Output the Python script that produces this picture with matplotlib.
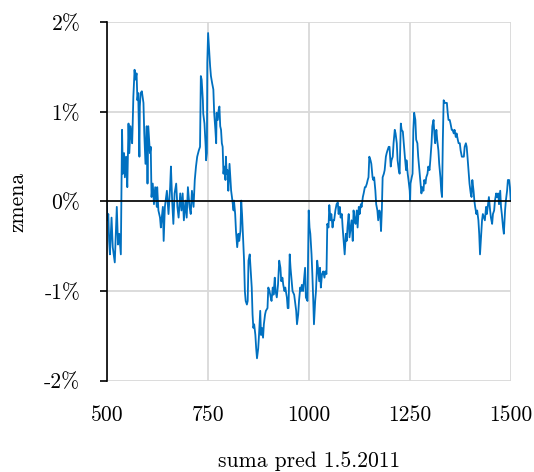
import matplotlib
matplotlib.use("Agg")
import matplotlib.pyplot as plt

plt.rcParams['font.family'] = 'serif'
plt.rcParams['font.serif'] = ['cmr10', 'DejaVu Serif']
plt.rcParams['axes.formatter.use_mathtext'] = True

# suma pred 1.5.2011 -> zmena (v %)
suma = [500, 502, 504, 506, 508, 512, 515, 520, 523, 525, 528, 531, 535, 536,
        538, 540, 543, 545, 548, 551, 554, 556, 559, 563, 564, 566, 569, 571,
        574, 576, 578, 581, 582, 584, 587, 591, 593, 596, 599, 601, 603, 607,
        609, 611, 614, 617, 620, 624, 625, 628, 632, 634, 639, 641, 644, 649,
        653, 657, 659, 662, 665, 668, 672, 675, 678, 682, 685, 688, 691, 695,
        698, 701, 705, 708, 711, 715, 718, 721, 724, 728, 731, 733, 735, 738,
        739, 742, 745, 746, 748, 749, 751, 753, 756, 758, 761, 764, 766, 769,
        771, 772, 775, 777, 779, 781, 783, 785, 787, 789, 791, 794, 795, 797,
        799, 801, 804, 806, 808, 810, 814, 815, 818, 820, 823, 826, 828, 831,
        833, 835, 837, 840, 842, 844, 847, 849, 851, 854, 856, 859, 861, 863,
        865, 868, 870, 872, 875, 877, 880, 882, 884, 887, 889, 892, 894, 898,
        900, 903, 906, 908, 911, 913, 916, 918, 921, 924, 927, 930, 932, 935,
        937, 940, 942, 946, 948, 950, 953, 955, 958, 960, 964, 966, 969, 971,
        974, 976, 979, 981, 983, 986, 988, 991, 993, 997, 1000, 1002, 1004,
        1007, 1009, 1011, 1013, 1016, 1018, 1021, 1023, 1026, 1028, 1030, 1033,
        1036, 1039, 1041, 1044, 1046, 1049, 1051, 1054, 1056, 1059, 1061, 1063,
        1066, 1069, 1072, 1074, 1077, 1079, 1082, 1084, 1087, 1089, 1092, 1094,
        1096, 1099, 1101, 1104, 1106, 1109, 1111, 1114, 1116, 1119, 1121, 1124,
        1126, 1129, 1131, 1134, 1136, 1139, 1141, 1144, 1146, 1148, 1150, 1153,
        1155, 1158, 1160, 1162, 1165, 1167, 1170, 1172, 1175, 1177, 1179, 1181,
        1183, 1186, 1188, 1191, 1193, 1195, 1198, 1200, 1203, 1205, 1208, 1210,
        1213, 1215, 1218, 1220, 1223, 1225, 1228, 1230, 1233, 1236, 1238, 1241,
        1242, 1245, 1247, 1250, 1251, 1252, 1255, 1257, 1259, 1261, 1264, 1266,
        1269, 1271, 1274, 1276, 1279, 1281, 1284, 1286, 1289, 1291, 1294, 1296,
        1299, 1301, 1304, 1306, 1309, 1311, 1313, 1316, 1318, 1321, 1323, 1326,
        1328, 1330, 1332, 1334, 1337, 1339, 1342, 1344, 1346, 1349, 1351, 1354,
        1356, 1359, 1361, 1364, 1366, 1369, 1371, 1374, 1376, 1379, 1381, 1384,
        1386, 1389, 1391, 1393, 1396, 1398, 1401, 1403, 1405, 1408, 1410, 1412,
        1415, 1417, 1420, 1422, 1424, 1426, 1429, 1431, 1434, 1436, 1439, 1441,
        1444, 1446, 1449, 1451, 1454, 1456, 1459, 1461, 1464, 1466, 1469, 1471,
        1474, 1476, 1478, 1481, 1483, 1486, 1488, 1491, 1493, 1496, 1498, 1500]
zmena = [-0.01, -0.21, -0.14, -0.44, -0.59, -0.18, -0.51, -0.68, -0.29, -0.06,
         -0.48, -0.36, -0.59, -0.14, 0.80, 0.31, 0.54, 0.27, 0.50, 0.16, 0.87,
         0.54, 0.84, 0.65, 0.80, 1.17, 1.47, 1.36, 1.43, 1.13, 1.21, 0.50, 1.06,
         1.21, 1.23, 1.10, 0.76, 0.42, 0.84, 0.20, 0.84, 0.54, 0.61, 0.05, 0.20,
         -0.03, 0.16, -0.06, 0.16, -0.10, -0.18, -0.29, -0.06, -0.44, -0.06,
         0.12, -0.14, 0.16, 0.39, 0.01, -0.25, 0.09, 0.20, -0.06, -0.18, 0.09,
         -0.10, 0.09, -0.21, 0.01, -0.18, 0.16, -0.06, -0.14, 0.12, -0.06, 0.24,
         0.39, 0.50, 0.57, 0.61, 1.40, 1.36, 1.13, 0.98, 0.87, 0.61, 0.46, 0.54,
         1.55, 1.88, 1.73, 1.51, 1.40, 1.32, 1.25, 0.99, 0.80, 0.65, 0.99, 0.91,
         1.02, 1.06, 0.84, 0.80, 0.65, 0.61, 0.31, 0.39, 0.24, 0.50, 0.31, 0.35,
         0.12, 0.42, 0.27, 0.12, 0.05, -0.10, 0.01, -0.14, -0.33, -0.51, -0.36,
         -0.44, -0.33, 0.01, -0.14, -0.36, -0.66, -1.00, -1.11, -1.15, -1.11,
         -0.66, -0.59, -0.74, -0.96, -1.26, -1.41, -1.37, -1.49, -1.64, -1.75,
         -1.64, -1.49, -1.22, -1.49, -1.41, -1.52, -1.37, -1.26, -1.22, -1.19,
         -0.96, -1.00, -1.07, -1.11, -0.96, -1.04, -0.85, -1.00, -1.07, -0.93,
         -0.66, -0.74, -0.89, -0.85, -0.93, -1.00, -0.96, -1.07, -1.19, -1.19,
         -0.59, -0.74, -0.89, -1.00, -1.04, -1.11, -1.22, -1.37, -1.26, -1.11,
         -0.96, -1.00, -0.93, -1.00, -0.89, -0.74, -1.07, -1.11, -0.10, -0.29,
         -0.36, -0.59, -0.81, -1.07, -1.37, -1.11, -1.00, -0.66, -0.74, -0.89,
         -0.74, -0.96, -0.81, -0.78, -0.85, -0.78, -0.81, -0.25, -0.29, -0.04,
         -0.21, -0.14, -0.29, -0.21, -0.21, -0.10, -0.03, -0.01, -0.14, -0.06,
         -0.18, -0.14, -0.29, -0.48, -0.59, -0.36, -0.44, -0.29, -0.14, -0.40,
         -0.29, -0.21, -0.44, -0.10, -0.21, -0.25, -0.10, -0.29, -0.06, -0.14,
         -0.03, -0.06, 0.05, 0.09, 0.16, 0.16, 0.20, 0.24, 0.27, 0.50, 0.46,
         0.42, 0.27, 0.24, 0.27, 0.12, -0.03, -0.10, -0.21, -0.10, -0.14, -0.33,
         -0.10, 0.27, 0.31, 0.35, 0.50, 0.54, 0.57, 0.61, 0.61, 0.39, 0.46, 0.50,
         0.65, 0.80, 0.76, 0.65, 0.46, 0.35, 0.31, 0.87, 0.80, 0.78, 0.61, 0.50,
         0.35, 0.46, 0.31, 0.24, 0.12, 0.01, 0.20, 0.27, 0.31, 0.80, 0.99, 0.91,
         0.69, 0.65, 0.50, 0.35, 0.24, 0.09, 0.16, 0.12, 0.24, 0.20, 0.27, 0.31,
         0.39, 0.35, 0.46, 0.65, 0.84, 0.91, 0.76, 0.65, 0.80, 0.69, 0.57, 0.42,
         0.27, 0.12, 0.05, 0.69, 1.13, 1.10, 1.10, 1.10, 0.99, 0.91, 0.91, 0.87,
         0.80, 0.80, 0.76, 0.80, 0.72, 0.76, 0.69, 0.65, 0.65, 0.57, 0.50, 0.50,
         0.50, 0.61, 0.65, 0.61, 0.50, 0.31, 0.20, 0.09, 0.05, 0.24, 0.12, 0.01,
         -0.06, -0.14, -0.10, -0.21, -0.36, -0.59, -0.44, -0.21, -0.14, -0.18,
         -0.21, -0.06, -0.14, -0.03, 0.05, -0.10, -0.18, -0.25, -0.14, -0.10,
         0.01, 0.09, 0.05, 0.09, -0.03, 0.12, -0.06, -0.14, -0.29, -0.36, -0.10,
         0.01, 0.12, 0.24, 0.24, 0.16, 0.01]

x_ticks = [500, 750, 1000, 1250, 1500]
y_ticks = [-2, -1, 0, 1, 2]
y_labels = ['-2%', '-1%', '0%', '1%', '2%']

fig = plt.figure(figsize=(5.34, 4.72), dpi=100)
ax = fig.add_axes([0.1998, 0.1934, 0.7566, 0.7594])

ax.plot(suma, zmena, color='#0070C0', lw=1.3, zorder=3)
ax.axhline(0, color='black', lw=1.2, zorder=4)

ax.set_xlim(500, 1500)
ax.set_ylim(-2, 2)
ax.set_xticks(x_ticks)
ax.set_xticklabels([str(t) for t in x_ticks])
ax.set_yticks(y_ticks)
ax.set_yticklabels(y_labels)

ax.grid(True, color='#d9d9d9', lw=1.3, zorder=0)
for s in ['top', 'right', 'bottom']:
    ax.spines[s].set_visible(False)
ax.spines['left'].set_color('black')
ax.spines['left'].set_linewidth(1.2)
ax.spines['left'].set_zorder(5)

ax.tick_params(axis='y', length=5, width=1.2, color='black', pad=14, labelsize=15.5)
ax.tick_params(axis='x', length=0, pad=18, labelsize=15.5)

ax.set_xlabel('suma pred 1.5.2011', fontsize=15.5, labelpad=19)
ax.set_ylabel('zmena', fontsize=15.5, labelpad=12)

fig.savefig('out.png', dpi=100)
